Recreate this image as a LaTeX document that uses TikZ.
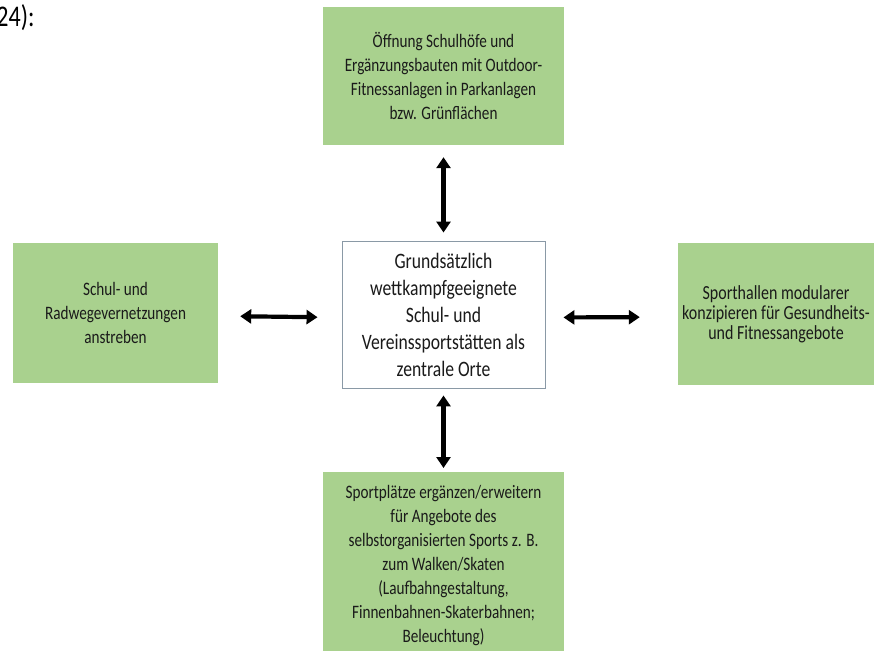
\documentclass[tikz,border=0pt]{standalone}
\usepackage{fontspec}
\setmainfont{Carlito}[FakeStretch=0.8]
\usetikzlibrary{arrows.meta}
\definecolor{boxgreen}{HTML}{A9D18E}
\definecolor{boxframe}{HTML}{8A99A6}
\definecolor{txt}{HTML}{1A1A1A}
\tikzset{
  greenbox/.style={fill=boxgreen, draw=none, inner sep=0pt, align=center, text=txt,
    font=\fontsize{19}{24}\selectfont},
  centerbox/.style={fill=white, draw=boxframe, line width=0.9pt, inner sep=0pt, align=center, text=txt,
    font=\fontsize{22}{27}\selectfont},
  dblarrow/.style={line width=4.2pt, {Triangle[length=11pt,width=14pt]}-{Triangle[length=11pt,width=14pt]}}
}
\begin{document}
\begin{tikzpicture}[x=1pt,y=-1pt]
\useasboundingbox[fill=white] (0,0) rectangle (874,650);
\node[anchor=base east, text=black, font=\fontsize{30}{30}\selectfont] (ref) at (38,27) {24):};
\node[greenbox, minimum width=241pt, minimum height=138pt] (top) at (443.5,76)
  {Öffnung Schulhöfe und\\Ergänzungsbauten mit Outdoor-\\Fitnessanlagen in Parkanlagen\\bzw. Grünflächen};
\node[greenbox, minimum width=205pt, minimum height=140pt] (left) at (115.5,313)
  {Schul- und\\Radwegevernetzungen\\anstreben};
\node[centerbox, minimum width=203pt, minimum height=147pt] (center) at (443.5,314.5)
  {Grundsätzlich\\wettkampfgeeignete\\Schul- und\\Vereinssportstätten als\\zentrale Orte};
\node[greenbox, minimum width=196pt, minimum height=142pt, font=\fontsize{20}{20}\selectfont] (right) at (776,314)
  {Sporthallen modularer\\konzipieren für Gesundheits-\\und Fitnessangebote};
\node[greenbox, minimum width=241pt, minimum height=186pt, anchor=north] (bottom) at (443.5,472)
  {Sportplätze ergänzen/erweitern\\für Angebote des\\selbstorganisierten Sports z. B.\\zum Walken/Skaten\\(Laufbahngestaltung,\\Finnenbahnen-Skaterbahnen;\\Beleuchtung)};
\draw[dblarrow, shorten <=12pt, shorten >=8pt] (top.south) -- (center.north);
\draw[dblarrow, shorten <=22pt, shorten >=24pt] ([yshift=-3pt]left.east) -- ([yshift=-3pt]center.west);
\draw[dblarrow, shorten <=18pt, shorten >=38pt] ([yshift=-3pt]center.east) -- ([yshift=-3pt]right.west);
\draw[dblarrow, shorten <=7pt, shorten >=4pt] (center.south) -- (bottom.north);
\end{tikzpicture}
\end{document}
